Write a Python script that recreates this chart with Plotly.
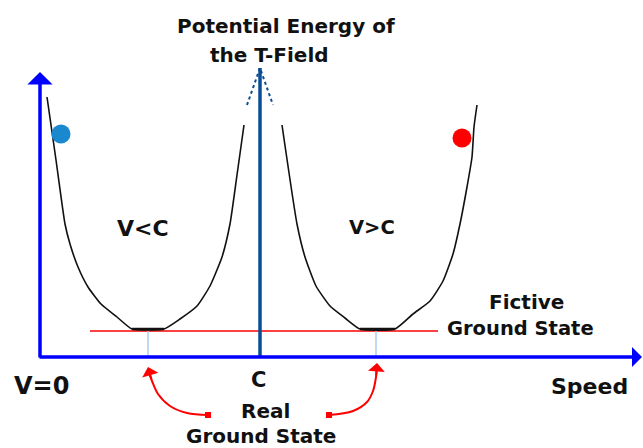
import plotly.graph_objects as go

# ---- data (speed, energy) ----
left_well_speed = [7, 16, 25, 30, 38, 48, 61, 77, 92, 124, 140, 157, 170, 182, 190, 197, 204]
left_well_energy = [260, 197, 133, 113, 90, 70, 53, 40, 28, 28, 38, 51, 71, 100, 133, 182, 232]
right_well_speed = [242, 257, 265, 276, 290, 305, 320, 355, 373, 390, 403, 413, 420, 427, 432, 434, 437]
right_well_energy = [232, 133, 100, 71, 51, 39, 28, 28, 43, 56, 76, 103, 133, 170, 200, 230, 252]
left_floor_speed = [92, 124]
right_floor_speed = [320, 355]
floor_energy = [28, 28]

fictive_speed = [50, 398]
fictive_energy = [26, 26]
real_ground_speeds = [108, 336]
light_speed_c = 220
axis_top_energy = 285
axis_end_speed = 602
c_line_top = 289
c_head_speed = [207, 220, 233]
c_head_energy = [252, 289, 252]

blue_ball = (21, 223)
red_ball = (422, 219)

left_arrow_speed = [168, 147, 130, 118, 112, 108]
left_arrow_energy = [-58, -56, -49, -37, -24, -14]
right_arrow_speed = [289, 313, 327, 333, 336, 337]
right_arrow_energy = [-58, -54, -45, -34, -20, -10]

labels = [
    ("Potential Energy of", 246, 331, 20),
    ("the T-Field", 229, 302, 20),
    ("V<C", 103, 129, 22),
    ("V>C", 332, 130, 19.5),
    ("Fictive", 486, 55, 20),
    ("Ground State", 480, 29, 19.5),
    ("Speed", 549, -29, 22),
    ("V=0", 1, -29, 24),
    ("C", 218, -23, 21),
    ("Real", 225, -54, 20),
    ("Ground State", 221, -79, 20),
]

AX_BLUE = "#0000ff"
C_BLUE = "#0a4d97"
RED = "#ff0000"

fig = go.Figure()

# fictive ground state line
fig.add_trace(go.Scatter(x=fictive_speed, y=fictive_energy, mode="lines",
                         line=dict(color=RED, width=1.5), hoverinfo="skip"))
# real ground state ticks
for s in real_ground_speeds:
    fig.add_trace(go.Scatter(x=[s, s], y=[0, fictive_energy[0]], mode="lines",
                             line=dict(color="#a9cdf2", width=1.5), hoverinfo="skip"))
# wells
for xs, ys in ((left_well_speed, left_well_energy), (right_well_speed, right_well_energy)):
    fig.add_trace(go.Scatter(x=xs, y=ys, mode="lines",
                             line=dict(color="#111111", width=1.6, shape="spline", smoothing=0.5),
                             hoverinfo="skip"))
for fs in (left_floor_speed, right_floor_speed):
    fig.add_trace(go.Scatter(x=fs, y=floor_energy, mode="lines",
                             line=dict(color="#111111", width=2.5), hoverinfo="skip"))

# speed of light line
fig.add_trace(go.Scatter(x=[light_speed_c, light_speed_c], y=[0, c_line_top], mode="lines",
                         line=dict(color=C_BLUE, width=3.5), hoverinfo="skip"))
fig.add_trace(go.Scatter(x=c_head_speed, y=c_head_energy, mode="lines",
                         line=dict(color=C_BLUE, width=2, dash="dot"), hoverinfo="skip"))

# balls
fig.add_trace(go.Scatter(x=[blue_ball[0]], y=[blue_ball[1]], mode="markers",
                         marker=dict(color="#1a88cf", size=19), hoverinfo="skip"))
fig.add_trace(go.Scatter(x=[red_ball[0]], y=[red_ball[1]], mode="markers",
                         marker=dict(color=RED, size=19), hoverinfo="skip"))

# red pointer curves
for xs, ys in ((left_arrow_speed, left_arrow_energy), (right_arrow_speed, right_arrow_energy)):
    fig.add_trace(go.Scatter(x=xs, y=ys, mode="lines", line=dict(color=RED, width=2, shape="spline"),
                             hoverinfo="skip"))
    fig.add_trace(go.Scatter(x=[xs[0]], y=[ys[0]], mode="markers",
                             marker=dict(color=RED, size=6, symbol="square"), hoverinfo="skip"))

annotations = []
# axes with arrows
annotations.append(dict(x=0, y=axis_top_energy, ax=0, ay=-2, xref="x", yref="y", axref="x", ayref="y",
                        showarrow=True, arrowhead=1, arrowsize=1.2, arrowwidth=3.5, arrowcolor=AX_BLUE,
                        text="", standoff=0))
annotations.append(dict(x=axis_end_speed, y=0, ax=-2, ay=0, xref="x", yref="y", axref="x", ayref="y",
                        showarrow=True, arrowhead=1, arrowsize=0.95, arrowwidth=3.5, arrowcolor=AX_BLUE,
                        text="", standoff=0))
# red arrow heads
for xs, ys in ((left_arrow_speed, left_arrow_energy), (right_arrow_speed, right_arrow_energy)):
    annotations.append(dict(x=xs[-1], y=ys[-1] + 4, ax=xs[-2], ay=ys[-2], xref="x", yref="y",
                            axref="x", ayref="y", showarrow=True, arrowhead=1, arrowsize=1.4,
                            arrowwidth=2, arrowcolor=RED, text="", standoff=0))

for txt, x, y, sz in labels:
    annotations.append(dict(x=x, y=y, xref="x", yref="y", text=txt, showarrow=False,
                            xanchor="center", yanchor="middle",
                            font=dict(family="DejaVu Sans", size=sz, color="#111111", weight="bold")))

fig.update_layout(
    width=643, height=448,
    margin=dict(l=0, r=0, t=0, b=0),
    paper_bgcolor="white", plot_bgcolor="white",
    showlegend=False,
    xaxis=dict(range=[-40, 603], visible=False, fixedrange=True),
    yaxis=dict(range=[-91, 357], visible=False, fixedrange=True),
    annotations=annotations,
)

fig.write_html("out.html", config={"displayModeBar": False},
               post_script="document.body.style.margin='0';document.body.style.overflow='hidden';")
